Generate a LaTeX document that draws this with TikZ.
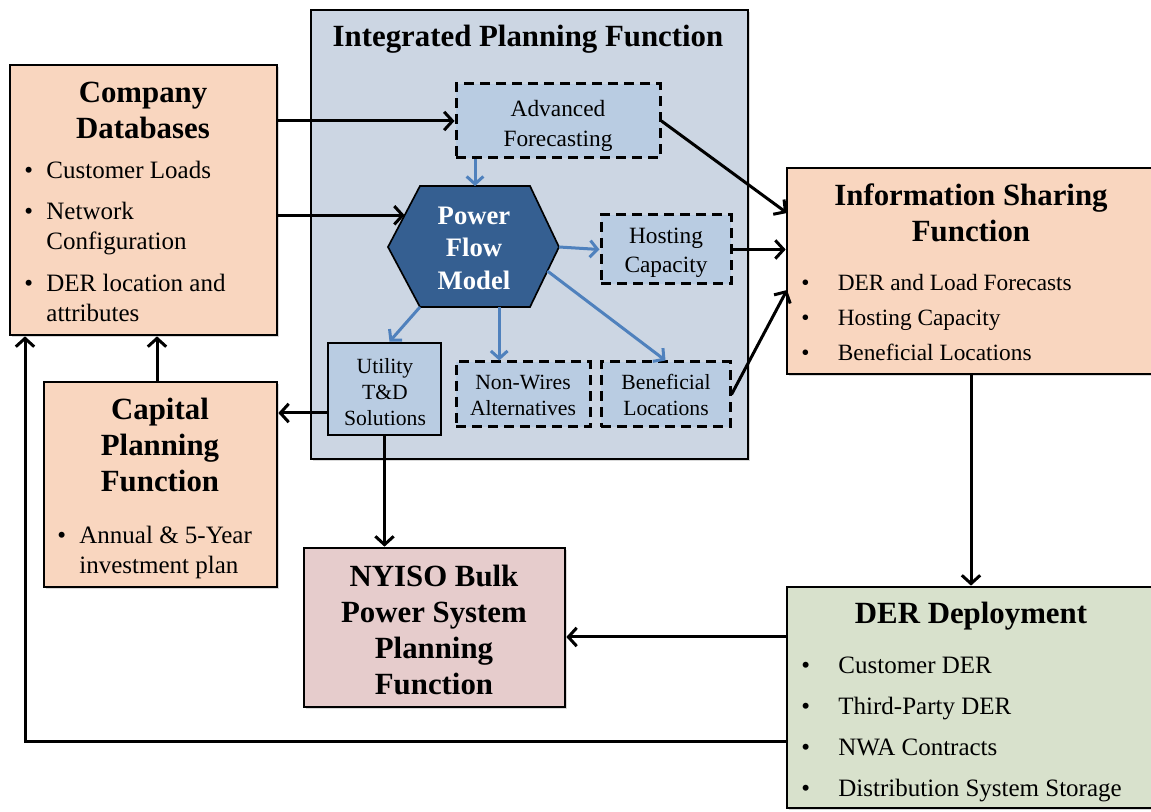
\documentclass[tikz,border=0pt]{standalone}
\usepackage{fontspec}
\setmainfont{Liberation Serif}
\usetikzlibrary{arrows.meta,fit,calc,shadows}

\definecolor{peach}{HTML}{F9D6BF}
\definecolor{panel}{HTML}{CCD6E3}
\definecolor{subbox}{HTML}{B9CCE2}
\definecolor{hexblue}{HTML}{355F91}
\definecolor{flowblue}{HTML}{4F81BD}
\definecolor{rose}{HTML}{E6CCCC}
\definecolor{sage}{HTML}{D8E1CC}

\tikzset{
  shade box/.style={drop shadow={shadow xshift=1.2pt, shadow yshift=-1.2pt, opacity=0.3}},
  mainbox/.style={draw=black, line width=1.6pt, inner sep=0pt, shade box},
  dashbox/.style={draw=black, line width=1.8pt, dash pattern=on 6pt off 3.6pt, fill=subbox, inner sep=0pt},
  solidsub/.style={draw=black, line width=1.6pt, fill=subbox, inner sep=0pt},
  ttl/.style={font=\bfseries\fontsize{18.5}{21.6}\selectfont, align=center, inner sep=0pt},
  sub/.style={font=\fontsize{14}{17.5}\selectfont, align=center, inner sep=0pt},
  smallsub/.style={font=\fontsize{13}{15.6}\selectfont, align=center, inner sep=0pt},
  lst/.style={inner sep=0pt, anchor=west},
  arr/.style={line width=1.8pt, -{Straight Barb[length=5pt, width=11pt, line width=1.8pt]}},
  barr/.style={draw=flowblue, line width=1.8pt, -{Straight Barb[length=4.5pt, width=10pt, line width=1.8pt]}},
}

\begin{document}
\begin{tikzpicture}[x=0.6pt, y=-0.6pt]
\useasboundingbox (0,0) rectangle (1151,812);
\clip (0,0) rectangle (1151,812);

% ---- outer boxes
\node[mainbox, fill=panel, fit={(311,10) (748,459)}] (ipf) {};
\node[mainbox, fill=peach, fit={(10,65) (277,335)}] (db) {};
\node[mainbox, fill=peach, fit={(787,168) (1170,374)}] (isf) {};
\node[mainbox, fill=peach, fit={(44,382) (277,587)}] (cp) {};
\node[mainbox, fill=rose, fit={(304,548) (565,707)}] (ny) {};
\node[mainbox, fill=sage, fit={(787,587) (1170,808)}] (der) {};

% ---- boxes inside the planning function
\node[dashbox, fit={(456,84) (660,158)}] (af) {};
\node[dashbox, fit={(601,215) (731,284)}] (hc) {};
\node[dashbox, fit={(456,362) (590,427)}] (nw) {};
\node[dashbox, fit={(601,362) (730,427)}] (bl) {};
\node[solidsub, fit={(328,343) (441,435)}] (ut) {};

% ---- power flow hexagon
\coordinate (h1) at (388,247);
\coordinate (h2) at (420,186);
\coordinate (h3) at (530,186);
\coordinate (h4) at (559,247);
\coordinate (h5) at (530,307);
\coordinate (h6) at (420,307);
\draw[fill=hexblue, draw=black, line width=1pt] (h1) -- (h2) -- (h3) -- (h4) -- (h5) -- (h6) -- cycle;

% ---- texts
\node[ttl] (ipfT) at (528,39) {Integrated Planning Function};
\node[ttl] (dbT) at (143,110) {Company\\Databases};
\node[lst] (dbL) at (24,244) {\fontsize{15}{18}\selectfont
  \begin{tabular}{@{}l@{\hspace{8pt}}l@{}}
  \textbullet & Customer Loads\\[7pt]
  \textbullet & Network\\
              & Configuration\\[7pt]
  \textbullet & DER location and\\
              & attributes
  \end{tabular}};
\node[sub] (afT) at (558,126) {Advanced\\Forecasting};
\node[font=\bfseries\fontsize{16}{19.5}\selectfont, text=white, align=center, inner sep=0pt] (pf) at (474,248) {Power\\Flow\\Model};
\node[sub] (hcT) at (666,253) {Hosting\\Capacity};
\node[smallsub] (utT) at (385,392) {Utility\\T\&D\\Solutions};
\node[smallsub] (nwT) at (523,395) {Non-Wires\\Alternatives};
\node[smallsub] (blT) at (666,395) {Beneficial\\Locations};

\node[ttl] (isfT) at (971,213) {Information Sharing\\Function};
\node[lst] (isfL) at (801,319) {\fontsize{14}{21}\selectfont
  \begin{tabular}{@{}l@{\hspace{17pt}}l@{}}
  \textbullet & DER and Load Forecasts\\
  \textbullet & Hosting Capacity\\
  \textbullet & Beneficial Locations
  \end{tabular}};

\node[ttl] (cpT) at (160,445) {Capital\\Planning\\Function};
\node[lst] (cpL) at (57,553) {\fontsize{15}{18}\selectfont
  \begin{tabular}{@{}l@{\hspace{8pt}}l@{}}
  \textbullet & Annual \& 5-Year\\
              & investment plan
  \end{tabular}};

\node[ttl] (nyT) at (434,630) {NYISO Bulk\\Power System\\Planning\\Function};

\node[ttl] (derT) at (971,616) {DER Deployment};
\node[lst] (derL) at (801,727) {\fontsize{15}{24.6}\selectfont
  \begin{tabular}{@{}l@{\hspace{17pt}}l@{}}
  \textbullet & Customer DER\\
  \textbullet & Third-Party DER\\
  \textbullet & NWA Contracts\\
  \textbullet & Distribution System Storage
  \end{tabular}};

% ---- connector anchors
\coordinate (pfin) at ($(h1)!0.52!(h2)$);
\coordinate (pftop) at ($(h2)!0.5!(h3)$);
\coordinate (pfnw) at ($(h6)!0.72!(h5)$);
\coordinate (pfbl) at ($(h4)!0.4!(h5)$);
\coordinate (isfa) at (787,213);
\coordinate (isfb) at (787,290);
\coordinate (utl) at (328,413);
\coordinate (isfx) at (971,0);
\coordinate (derny) at (787,637);
\coordinate (loop) at (25,742);
\coordinate (cpx) at (157,0);

% ---- black flows
\draw[arr] (db.east |- af.west) -- (af.west);
\draw[arr] (db.east |- pfin) -- (pfin);
\draw[arr] (af.east) -- (isfa);
\draw[arr] (hc.east) -- (isf.west |- hc.east);
\draw[arr] (bl.east) -- (isfb);
\draw[arr] (utl) -- (cp.east |- utl);
\draw[arr] (ut.south) -- (ut.south |- ny.north);
\draw[arr] (cp.north -| cpx) -- (db.south -| cpx);
\draw[arr] (isf.south -| isfx) -- (der.north -| isfx);
\draw[arr] (derny) -- (ny.east |- derny);
\draw[arr] (der.west |- loop) -- (loop) -- (db.south -| loop);

% ---- blue flows from the power flow model
\draw[barr] (af.south -| pftop) -- (pftop);
\draw[barr] (h4) -- (hc.west);
\draw[barr] (h6) -- ($(ut.north)+(5,0)$);
\draw[barr] (pfnw) -- (nw.north -| pfnw);
\draw[barr] (pfbl) -- (bl.north);
\end{tikzpicture}
\end{document}
